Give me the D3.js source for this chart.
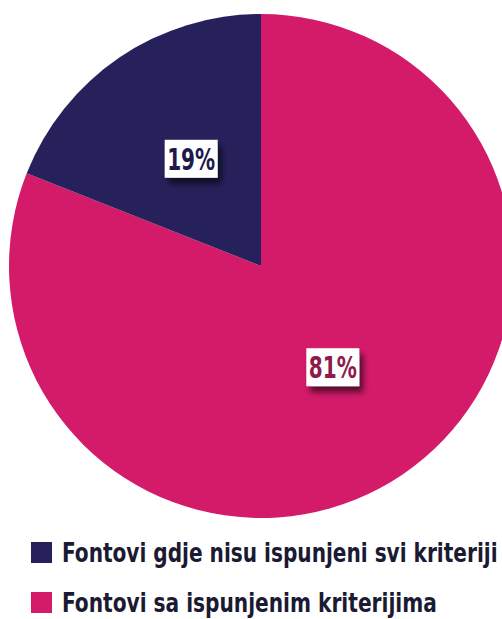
<!DOCTYPE html>
<html>
<head>
<meta charset="utf-8">
<script src="https://cdn.jsdelivr.net/npm/d3@7"></script>
<style>
  html, body { margin: 0; padding: 0; background: #fff; }
  svg { display: block; }
</style>
</head>
<body>
<div id="chart"></div>
<script>
// data
const labels = ["Fontovi sa ispunjenim kriterijima", "Fontovi gdje nisu ispunjeni svi kriteriji"];
const values = [81, 19];
const colors = ["#d41b6a", "#26215b"];
const labelColors = ["#8e1a4c", "#1e1a4c"];
const legendOrder = [1, 0];
const legendWidths = [375, 436]; // measured text widths, by data index

const W = 502, H = 619;
const cx = 261, cy = 266, r = 252;

const svg = d3.select("#chart").append("svg").attr("width", W).attr("height", H);

// shadow for the value boxes
const defs = svg.append("defs");
const f = defs.append("filter").attr("id", "shadow")
  .attr("x", "-30%").attr("y", "-30%").attr("width", "170%").attr("height", "190%");
f.append("feDropShadow").attr("dx", 4).attr("dy", 6).attr("stdDeviation", 3)
  .attr("flood-color", "#000").attr("flood-opacity", 0.6);

const pie = d3.pie().sort(null).value(d => d);
const arcs = pie(values);
const arc = d3.arc().innerRadius(0).outerRadius(r);

const g = svg.append("g").attr("transform", `translate(${cx},${cy})`);

g.selectAll("path.slice")
  .data(arcs)
  .join("path")
  .attr("class", "slice")
  .attr("d", arc)
  .attr("fill", (d, i) => colors[i]);

// squeeze a text horizontally to a target width (condensed look)
function fitWidth(sel, target) {
  sel.each(function(d) {
    const t = d3.select(this);
    const w = this.getComputedTextLength();
    const tw = typeof target === "function" ? target(d) : target;
    const x = +t.attr("x") || 0;
    t.attr("transform", `translate(${x},0) scale(${tw / w},1) translate(${-x},0)`);
  });
}

// value labels
const lab = g.selectAll("g.lab")
  .data(arcs)
  .join("g")
  .attr("class", "lab")
  .attr("transform", d => {
    const [x, y] = arc.centroid(d);
    return `translate(${x + 1},${y - 3})`;
  });

lab.append("rect")
  .attr("x", -26.5).attr("y", -19)
  .attr("width", 53).attr("height", 38)
  .attr("fill", "#fff")
  .attr("filter", "url(#shadow)");

lab.append("text")
  .attr("x", -24)
  .attr("y", 11)
  .style("font-family", "'DejaVu Sans Condensed', 'DejaVu Sans', sans-serif")
  .style("font-weight", "bold")
  .style("font-size", "30px")
  .attr("fill", (d, i) => labelColors[i])
  .text(d => d.data + "%")
  .call(fitWidth, 48);

// legend
const leg = svg.append("g").selectAll("g")
  .data(legendOrder)
  .join("g")
  .attr("transform", (d, i) => `translate(31,${542 + i * 50})`);

leg.append("rect")
  .attr("width", 21).attr("height", 21)
  .attr("fill", d => colors[d]);

leg.append("text")
  .attr("x", 31).attr("y", 20)
  .style("font-family", "'DejaVu Sans Condensed', 'DejaVu Sans', sans-serif")
  .style("font-size", "27px")
  .style("font-weight", "600")
  .attr("fill", "#1b1a33")
  .text(d => labels[d])
  .call(fitWidth, d => legendWidths[d]);
</script>
</body>
</html>
